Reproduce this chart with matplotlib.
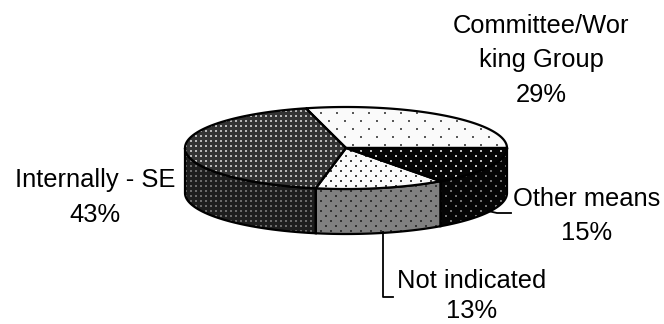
import numpy as np
import matplotlib
matplotlib.use("Agg")
import matplotlib.pyplot as plt
from matplotlib.patches import Polygon

categories = ["Committee/Wor\nking Group", "Other means", "Not indicated", "Internally - SE"]
shares = [29, 15, 13, 43]

W, H = 664, 324
CX, CY, RX, RY, DEPTH = 346, 148, 161, 41, 45
START = 104.4

plt.rcParams["font.family"] = ["Liberation Sans", "DejaVu Sans"]
fig = plt.figure(figsize=(W / 100, H / 100), dpi=100)
ax = fig.add_axes([0, 0, 1, 1])
ax.set_xlim(0, W)
ax.set_ylim(H, 0)
ax.axis("off")


def dots(bg, fg, period, size=2, staggered=True):
    """Full-canvas greyscale dot texture."""
    img = np.full((H, W), bg, dtype=float)
    yy, xx = np.mgrid[0:H, 0:W]
    if staggered:
        row = yy // period
        xs = (xx + (row % 2) * period) % (2 * period)
    else:
        xs = xx % period
    mask = (xs < size) & (yy % period < size)
    img[mask] = fg
    return img


def ring(a0, a1, dy=0.0):
    t = np.radians(np.linspace(a0, a1, 120))
    return np.column_stack([CX + RX * np.cos(t), CY + dy - RY * np.sin(t)])


def fill(xy, texture, z):
    poly = Polygon(xy, closed=True, facecolor="none", edgecolor="black", lw=1.6, zorder=z + 1)
    ax.add_patch(poly)
    im = ax.imshow(texture, cmap="gray", vmin=0, vmax=1, extent=(0, W, H, 0),
                   interpolation="bilinear", zorder=z, aspect="auto")
    im.set_clip_path(poly)


top_textures = [
    dots(0.98, 0.35, 8, 2),
    dots(0.02, 0.75, 5, 2),
    dots(0.98, 0.25, 5, 2),
    dots(0.20, 0.72, 5, 2, staggered=False),
]
side_textures = [
    None,
    dots(0.02, 0.45, 5, 2),
    dots(0.50, 0.20, 5, 2),
    dots(0.12, 0.42, 5, 2, staggered=False),
]

edges = START - np.cumsum([0] + shares) * 3.6

# Rim first, only the arcs on the near half of the disc are visible
for i in range(len(shares)):
    a0, a1 = edges[i], edges[i + 1]
    lo, hi = min(a0, a1), max(a0, a1)
    spans = [(max(lo, -180), min(hi, 0)), (max(lo, 180), min(hi, 360))]
    for s0, s1 in spans:
        if s1 > s0 and side_textures[i] is not None:
            xy = np.vstack([ring(s0, s1), ring(s1, s0, DEPTH)])
            fill(xy, side_textures[i], 2)

# Top faces
for i in range(len(shares)):
    xy = np.vstack([[CX, CY], ring(edges[i], edges[i + 1])])
    fill(xy, top_textures[i], 4)

# Leader lines
ax.plot([488, 497, 511], [211, 213, 213], color="black", lw=1.3, zorder=7)
ax.plot([383, 383, 393], [232, 297, 297], color="black", lw=1.3, zorder=7)

# Labels are set line by line on their baselines
fs = 18.4
label_x = [541, 587, 472, 95]
label_y = [33, 206, 288, 187]
line_steps = [34.5, 34, 30, 35]
for x, y, step, name, share in zip(label_x, label_y, line_steps, categories, shares):
    lines = name.split("\n") + [f"{share}%"]
    for k, line in enumerate(lines):
        ax.text(x, y + k * step, line, ha="center", va="baseline", fontsize=fs,
                color="black", zorder=8)

fig.savefig("out.png", dpi=100)
